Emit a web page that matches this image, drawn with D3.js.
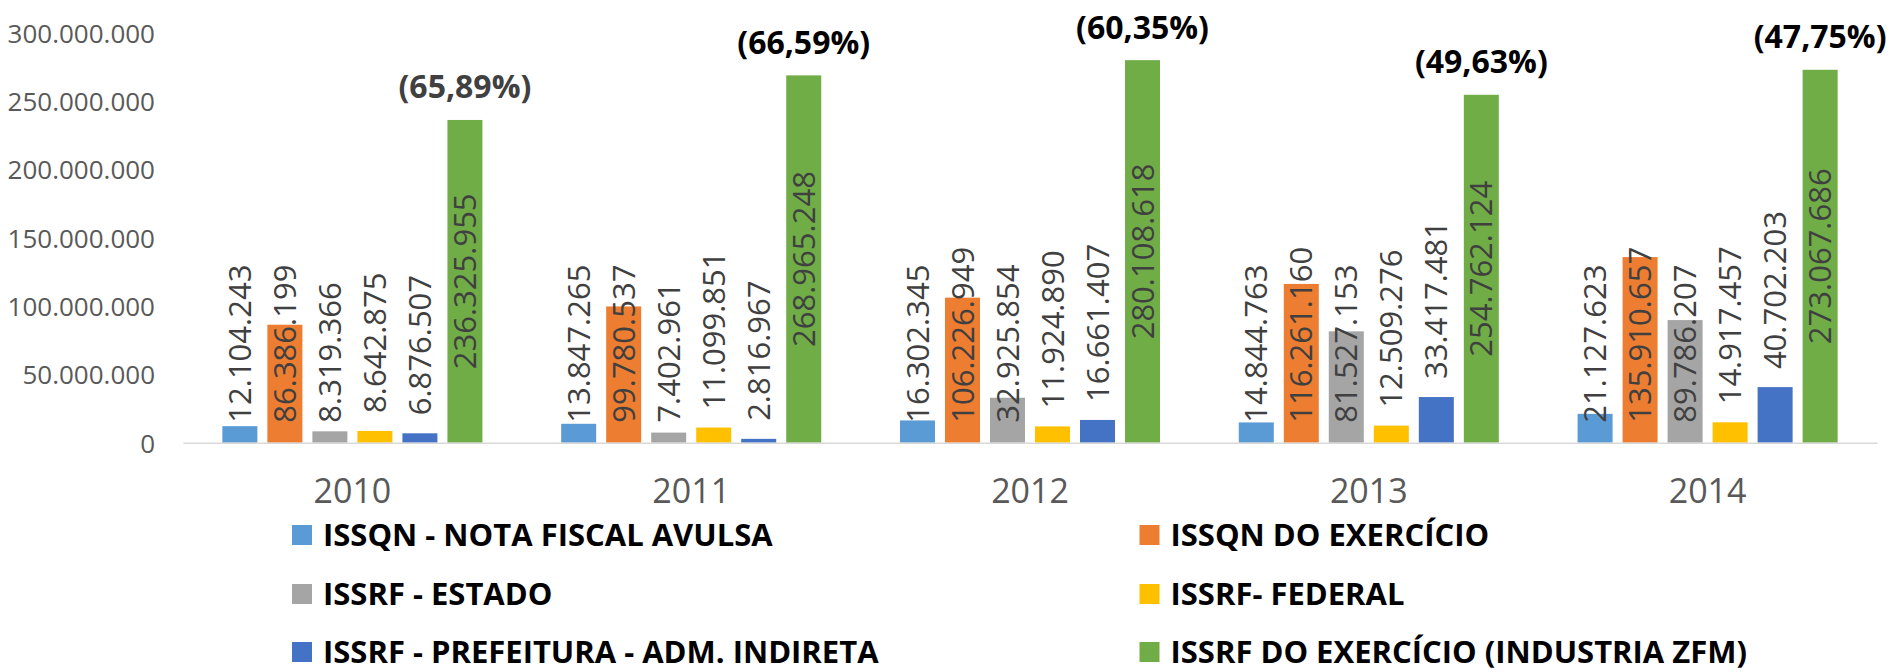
<!DOCTYPE html>
<html>
<head>
<meta charset="utf-8">
<script src="https://cdn.jsdelivr.net/npm/d3@7"></script>
<style>
  html, body { margin: 0; padding: 0; background: #fff; }
  svg { display: block; font-family: "Open Sans", "Noto Sans", sans-serif; }
</style>
</head>
<body>
<svg id="chart" width="1893" height="672"></svg>
<script>
// ---- data ----
const years = ["2010", "2011", "2012", "2013", "2014"];
const seriesNames = [
  "ISSQN - NOTA FISCAL AVULSA",
  "ISSQN DO EXERCÍCIO",
  "ISSRF - ESTADO",
  "ISSRF- FEDERAL",
  "ISSRF - PREFEITURA - ADM. INDIRETA",
  "ISSRF DO EXERCÍCIO (INDUSTRIA ZFM)"
];
const notaFiscalAvulsa = [12104243, 13847265, 16302345, 14844763, 21127623];
const issqnExercicio   = [86386199, 99780537, 106226949, 116261160, 135910657];
const issrfEstado      = [8319366, 7402961, 32925854, 81527153, 89786207];
const issrfFederal     = [8642875, 11099851, 11924890, 12509276, 14917457];
const issrfPrefeitura  = [6876507, 2816967, 16661407, 33417481, 40702203];
const issrfIndustria   = [236325955, 268965248, 280108618, 254762124, 273067686];
const percentLabels = ["(65,89%)", "(66,59%)", "(60,35%)", "(49,63%)", "(47,75%)"];
const yTicks = [0, 50000000, 100000000, 150000000, 200000000, 250000000, 300000000];

// ---- styles ----
const colors = ["#5B9BD5", "#ED7D31", "#A5A5A5", "#FFC000", "#4472C4", "#70AD47"];
const labelMode = ["base", "base", "base", "end", "end", "center"];
const pctColors = ["#404040", "#000000", "#000000", "#000000", "#000000"];

const seriesValues = [notaFiscalAvulsa, issqnExercicio, issrfEstado, issrfFederal, issrfPrefeitura, issrfIndustria];
const fmt = v => d3.format(",")(v).replace(/,/g, ".");

const svg = d3.select("#chart");
const plot = { left: 183, right: 1877, top: 33, bottom: 442.7 };

const x0 = d3.scaleBand().domain(years).range([plot.left, plot.right]).paddingInner(0).paddingOuter(0);
const x1 = d3.scaleBand().domain(d3.range(seriesNames.length)).range([0, x0.bandwidth()])
  .paddingInner(10 / 45).paddingOuter(0.8747);
const y = d3.scaleLinear().domain([0, 300000000]).range([plot.bottom, plot.top]);

// y tick labels (no axis line)
const yAxis = d3.axisLeft(y).tickValues(yTicks).tickFormat(fmt).tickSize(0).tickPadding(0);
const yg = svg.append("g").attr("transform", "translate(155,0)").call(yAxis);
yg.select(".domain").remove();
yg.selectAll("text").attr("font-size", 26).attr("fill", "#595959")
  .attr("font-family", "'Open Sans', sans-serif").attr("dy", "0.36em");

// bars
const groups = svg.append("g").selectAll("g").data(years).join("g")
  .attr("transform", d => `translate(${x0(d)},0)`);

groups.each(function(year, yi) {
  const g = d3.select(this);
  seriesValues.forEach((vals, si) => {
    const v = vals[yi];
    g.append("rect")
      .attr("x", x1(si)).attr("width", x1.bandwidth())
      .attr("y", y(v)).attr("height", y(0) - y(v))
      .attr("fill", colors[si]);
  });
});

// x axis line + labels
const xAxis = d3.axisBottom(x0).tickSize(0).tickPadding(0);
const xg = svg.append("g").attr("transform", `translate(0,${plot.bottom})`).call(xAxis);
xg.select(".domain").attr("stroke", "#D9D9D9").attr("stroke-width", 1.6);
xg.selectAll("text").attr("font-size", 34).attr("fill", "#595959")
  .attr("font-family", "'Open Sans', sans-serif").attr("dy", null).attr("y", 60);

// value labels
groups.each(function(year, yi) {
  const g = d3.select(this);
  seriesValues.forEach((vals, si) => {
    const v = vals[yi];
    const cx = x1(si) + x1.bandwidth() / 2;
    let ty, anchor;
    if (labelMode[si] === "base") { ty = y(0) - 20; anchor = "start"; }
    else if (labelMode[si] === "end") { ty = y(v) - 18; anchor = "start"; }
    else { ty = (y(v) + y(0)) / 2; anchor = "middle"; }
    g.append("text")
      .attr("transform", `translate(${cx},${ty}) rotate(-90)`)
      .attr("text-anchor", anchor)
      .attr("dy", "0.36em")
      .attr("font-size", 31)
      .attr("fill", "#404040")
      .text(fmt(v));
  });
});

// percentage labels over the green bars
groups.each(function(year, yi) {
  const g = d3.select(this);
  const si = seriesValues.length - 1;
  const v = seriesValues[si][yi];
  g.append("text")
    .attr("x", x1(si) + x1.bandwidth() / 2)
    .attr("y", y(v) - 33)
    .attr("dy", "0.36em")
    .attr("text-anchor", "middle")
    .attr("font-size", 32)
    .attr("font-weight", "bold")
    .attr("fill", pctColors[yi])
    .text(percentLabels[yi]);
});

// legend
const legendCols = [292, 1139.5];
const legendRows = [535, 594, 652];
const legend = svg.append("g").selectAll("g").data(seriesNames).join("g")
  .attr("transform", (d, i) => `translate(${legendCols[i % 2]},${legendRows[Math.floor(i / 2)]})`);
legend.append("rect").attr("x", 0).attr("y", -10).attr("width", 20).attr("height", 20)
  .attr("fill", (d, i) => colors[i]);
legend.append("text").attr("x", 31).attr("y", 0).attr("dy", "0.36em")
  .attr("font-size", 31).attr("font-weight", "bold").attr("fill", "#000")
  .text(d => d);
</script>
</body>
</html>
